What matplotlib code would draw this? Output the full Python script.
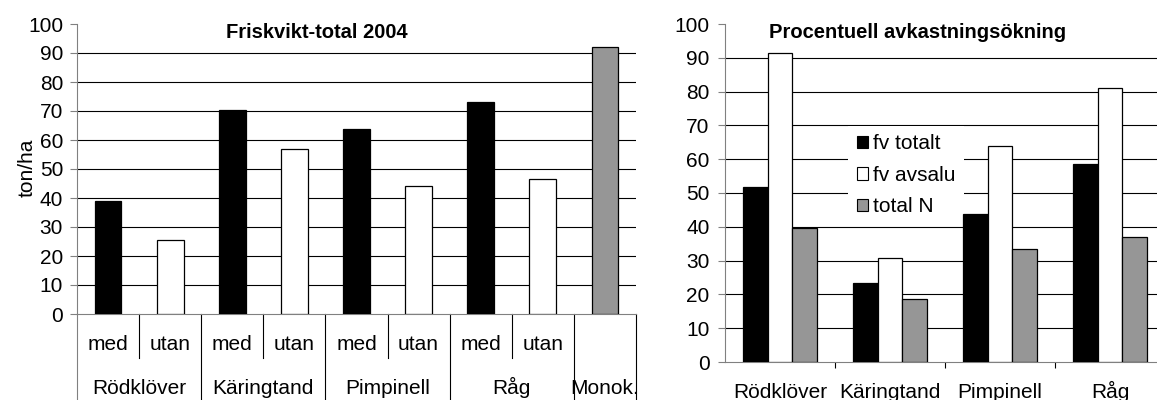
import matplotlib
matplotlib.use('Agg')
import matplotlib.pyplot as plt
from matplotlib.patches import Patch
import numpy as np

plt.rcParams['font.family'] = ['Liberation Sans', 'DejaVu Sans']

# Left chart: Friskvikt-total 2004 (ton/ha)
groups = ['Rödklöver', 'Käringtand', 'Pimpinell', 'Råg']
sub_labels = ['med', 'utan']
med_values = [38.9, 70.3, 63.7, 73.0]
utan_values = [25.5, 56.9, 44.2, 46.4]
monok_label = 'Monok.'
monok_value = 92.2

# Right chart: Procentuell avkastningsökning (%)
series_names = ['fv totalt', 'fv avsalu', 'total N']
fv_totalt = [51.7, 23.5, 43.7, 58.5]
fv_avsalu = [91.5, 30.9, 64.0, 81.1]
total_n = [39.7, 18.5, 33.3, 37.0]

BLACK = 'black'
GREY = '#969696'
AXIS = '#808080'
FS = 15
TFS = 14.5

W, H = 1157, 400
fig = plt.figure(figsize=(W / 100, H / 100), dpi=100)

# ---------------- left chart ----------------
ax1 = fig.add_axes([77 / W, 1 - 314 / H, 559 / W, 290 / H])
x_med = np.arange(len(groups)) * 2
x_utan = x_med + 1
x_monok = 2 * len(groups)
bw = 0.43
ax1.bar(x_med, med_values, bw, color=BLACK, edgecolor='black', linewidth=0.9, zorder=3)
ax1.bar(x_utan, utan_values, bw, color='white', edgecolor='black', linewidth=0.9, zorder=3)
ax1.bar([x_monok], [monok_value], bw, color=GREY, edgecolor='black', linewidth=0.9, zorder=3)

ax1.set_xlim(-0.5, x_monok + 0.5)
ax1.set_ylim(0, 100)
ax1.hlines(np.arange(10, 100, 10), -0.5, x_monok + 0.5, color='black', linewidth=0.8, zorder=1)
ax1.set_yticks(np.arange(0, 101, 10))
ax1.set_xticks([])
ax1.tick_params(axis='y', direction='out', length=5, width=0.8, color=AXIS,
                labelsize=FS, pad=5)
for s in ['top', 'right']:
    ax1.spines[s].set_visible(False)
for s in ['left', 'bottom']:
    ax1.spines[s].set_color(AXIS)
    ax1.spines[s].set_linewidth(0.8)

trans = ax1.get_xaxis_transform()
# y axis runs on down through the category table
ax1.plot([-0.5, -0.5], [0, -0.32], transform=trans, color=AXIS, lw=0.8, clip_on=False)
for k in range(len(groups)):
    ax1.plot([2 * k + 0.5] * 2, [0, -0.152], transform=trans, color='black', lw=0.8, clip_on=False)
    ax1.plot([2 * k + 1.5] * 2, [0, -0.32], transform=trans, color='black', lw=0.8, clip_on=False)
    ax1.text(2 * k + 0.5, -0.276, groups[k], transform=trans, ha='center', va='baseline', fontsize=FS)
    for j in range(2):
        ax1.text(2 * k + j, -0.124, sub_labels[j], transform=trans, ha='center', va='baseline', fontsize=FS)
ax1.plot([x_monok + 0.5] * 2, [0, -0.32], transform=trans, color='black', lw=0.8, clip_on=False)
ax1.text(x_monok, -0.276, monok_label, transform=trans, ha='center', va='baseline', fontsize=FS)

fig.text(317 / W, 1 - 33 / H, 'Friskvikt-total 2004', ha='center', va='center',
         fontsize=TFS, fontweight='bold')
fig.text(27 / W, 1 - 168 / H, 'ton/ha', rotation=90, ha='center', va='center', fontsize=FS)

# ---------------- right chart ----------------
ax2 = fig.add_axes([725 / W, 1 - 362 / H, 440 / W, 338 / H])
x = np.arange(len(groups))
w = 0.223
ax2.bar(x - w, fv_totalt, w, color=BLACK, edgecolor='black', linewidth=0.9, zorder=3)
ax2.bar(x, fv_avsalu, w, color='white', edgecolor='black', linewidth=0.9, zorder=3)
ax2.bar(x + w, total_n, w, color=GREY, edgecolor='black', linewidth=0.9, zorder=3)

ax2.set_xlim(-0.5, len(groups) - 0.5)
ax2.set_ylim(0, 100)
ax2.hlines(np.arange(10, 100, 10), -0.5, len(groups) - 0.5, color='black', linewidth=0.8, zorder=1)
ax2.set_yticks(np.arange(0, 101, 10))
ax2.set_xticks(np.arange(len(groups) - 1) + 0.5)
ax2.set_xticklabels([])
ax2.tick_params(axis='y', direction='out', length=5, width=0.8, color=AXIS,
                labelsize=FS, pad=6)
ax2.tick_params(axis='x', direction='out', length=4, width=0.8, color='black')
for s in ['top', 'right']:
    ax2.spines[s].set_visible(False)
for s in ['left', 'bottom']:
    ax2.spines[s].set_color(AXIS)
    ax2.spines[s].set_linewidth(0.8)

trans2 = ax2.get_xaxis_transform()
for k, g in enumerate(groups):
    ax2.text(k, -0.1065, g, transform=trans2, ha='center', va='baseline', fontsize=FS)

handles = [Patch(facecolor=BLACK, edgecolor='black', linewidth=0.8),
           Patch(facecolor='white', edgecolor='black', linewidth=0.8),
           Patch(facecolor=GREY, edgecolor='black', linewidth=0.8)]
leg = ax2.legend(handles, series_names, loc='upper left', bbox_to_anchor=(0.28, 0.698),
                 frameon=True, facecolor='white', edgecolor='none', framealpha=1,
                 fancybox=False, fontsize=FS, handlelength=0.55, handleheight=0.55,
                 handletextpad=0.25, labelspacing=0.6, borderpad=0.4, borderaxespad=0)
leg.set_zorder(2)  # box hides the gridlines but sits behind the bars

fig.text(918 / W, 1 - 33 / H, 'Procentuell avkastningsökning', ha='center', va='center',
         fontsize=TFS, fontweight='bold')

fig.savefig('out.png', dpi=100)
